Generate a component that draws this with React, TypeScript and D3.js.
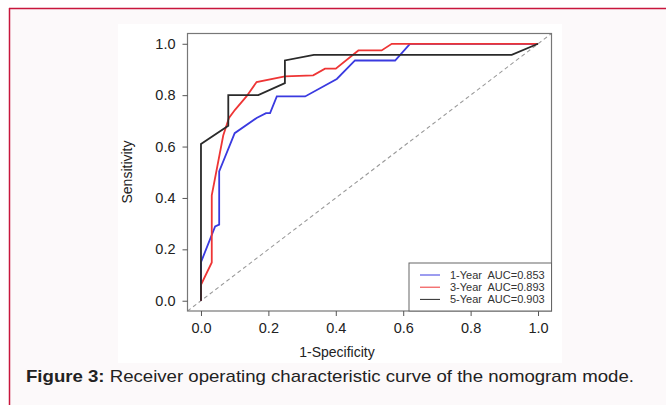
import React, { useRef, useEffect } from 'react';
import * as d3 from 'd3';

// ROC curve points (1-Specificity, Sensitivity)
const year1Fpr = [0, 0, 0.042, 0.054, 0.054, 0.1, 0.165, 0.193, 0.205, 0.225, 0.309, 0.403, 0.457, 0.576, 0.62, 1];
const year1Tpr = [0, 0.15, 0.289, 0.296, 0.503, 0.652, 0.711, 0.73, 0.73, 0.795, 0.795, 0.863, 0.935, 0.935, 1, 1];

const year3Fpr = [0, 0, 0.032, 0.032, 0.066, 0.083, 0.101, 0.135, 0.165, 0.249, 0.333, 0.368, 0.4, 0.467, 0.536, 0.566, 1];
const year3Tpr = [0, 0.062, 0.149, 0.41, 0.643, 0.711, 0.743, 0.795, 0.851, 0.873, 0.877, 0.903, 0.903, 0.974, 0.974, 1, 1];

const year5Fpr = [0, 0, 0.081, 0.081, 0.17, 0.249, 0.249, 0.335, 0.922, 1];
const year5Tpr = [0, 0.61, 0.681, 0.8, 0.8, 0.847, 0.935, 0.957, 0.957, 1];

const seriesNames = ['1-Year', '3-Year', '5-Year'];
const aucValues = ['0.853', '0.893', '0.903'];
const seriesColors = ['#3a3ae0', '#ee3535', '#2a2a2a'];

const tickValues = [0, 0.2, 0.4, 0.6, 0.8, 1.0];

function RocChart() {
  const svgRef = useRef<SVGSVGElement>(null);

  useEffect(() => {
    const width = 666;
    const height = 405;
    const svg = d3.select(svgRef.current)
      .attr('width', width)
      .attr('height', height);
    svg.selectAll('*').remove();

    // page background and red frame
    svg.append('rect').attr('width', width).attr('height', height).attr('fill', '#ffffff');
    svg.append('rect').attr('x', 9).attr('y', 8).attr('width', width - 9).attr('height', height - 8).attr('fill', '#fcf9fa');
    svg.append('line').attr('x1', 9).attr('x2', width).attr('y1', 8.5).attr('y2', 8.5)
      .attr('stroke', '#c8163c').attr('stroke-width', 1.5);
    svg.append('line').attr('x1', 9.5).attr('x2', 9.5).attr('y1', 8).attr('y2', height)
      .attr('stroke', '#c8163c').attr('stroke-width', 1.5);

    // white figure image
    svg.append('rect').attr('x', 118).attr('y', 24).attr('width', 444).attr('height', 339).attr('fill', '#ffffff');

    const x = d3.scaleLinear().domain([-0.04, 1.04]).range([187.5, 551.5]);
    const y = d3.scaleLinear().domain([-0.04, 1.04]).range([311, 33.5]);

    const font = 'Liberation Sans, Arial, sans-serif';

    svg.append('defs').append('clipPath').attr('id', 'plotclip')
      .append('rect').attr('x', x(-0.04)).attr('y', y(1.04))
      .attr('width', x(1.04) - x(-0.04)).attr('height', y(-0.04) - y(1.04));

    // diagonal reference
    svg.append('line')
      .attr('clip-path', 'url(#plotclip)')
      .attr('x1', x(-0.04)).attr('y1', y(-0.04)).attr('x2', x(1.04)).attr('y2', y(1.04))
      .attr('stroke', '#9a9a9a').attr('stroke-width', 1.1).attr('stroke-dasharray', '4,3');

    const line = d3.line<[number, number]>().x(d => x(d[0])).y(d => y(d[1]));
    const series = [
      d3.zip(year1Fpr, year1Tpr),
      d3.zip(year3Fpr, year3Tpr),
      d3.zip(year5Fpr, year5Tpr),
    ];
    series.forEach((pts, i) => {
      svg.append('path')
        .attr('d', line(pts as [number, number][]))
        .attr('fill', 'none')
        .attr('stroke', seriesColors[i])
        .attr('stroke-width', 1.8);
    });

    // plot box
    svg.append('rect')
      .attr('x', x(-0.04)).attr('y', y(1.04))
      .attr('width', x(1.04) - x(-0.04)).attr('height', y(-0.04) - y(1.04))
      .attr('fill', 'none').attr('stroke', '#777').attr('stroke-width', 1.2);

    // axes
    const xAxis = svg.append('g')
      .attr('transform', `translate(0, ${y(-0.04)})`)
      .call(d3.axisBottom(x).tickValues(tickValues).tickFormat(d3.format('.1f')).tickSize(5).tickPadding(7));
    const yAxis = svg.append('g')
      .attr('transform', `translate(${x(-0.04)}, 0)`)
      .call(d3.axisLeft(y).tickValues(tickValues).tickFormat(d3.format('.1f')).tickSize(5).tickPadding(7));
    [xAxis, yAxis].forEach(g => {
      g.select('.domain').remove();
      g.selectAll('line').attr('stroke', '#555');
      g.selectAll('text').attr('font-family', font).attr('font-size', 14.5).attr('fill', '#222');
    });

    svg.append('text')
      .attr('x', 337).attr('y', 357)
      .attr('text-anchor', 'middle')
      .attr('font-family', font).attr('font-size', 14).attr('fill', '#222')
      .text('1-Specificity');
    svg.append('text')
      .attr('transform', `translate(132, 172) rotate(-90)`)
      .attr('text-anchor', 'middle')
      .attr('font-family', font).attr('font-size', 14).attr('fill', '#222')
      .text('Sensitivity');

    // legend
    const legend = svg.append('g');
    legend.append('rect')
      .attr('x', 409).attr('y', 263).attr('width', x(1.04) - 409).attr('height', y(-0.04) - 263)
      .attr('fill', '#ffffff').attr('stroke', '#666').attr('stroke-width', 1);
    seriesNames.forEach((name, i) => {
      const ly = 275 + i * 12.2;
      legend.append('line')
        .attr('x1', 420).attr('x2', 440).attr('y1', ly).attr('y2', ly)
        .attr('stroke', seriesColors[i]).attr('stroke-width', 1);
      legend.append('text')
        .attr('x', 450).attr('y', ly).attr('dy', '0.35em')
        .attr('font-family', font).attr('font-size', 11).attr('fill', '#333')
        .attr('xml:space', 'preserve')
        .text(`${name}  AUC=${aucValues[i]}`);
    });

    // caption
    const caption = svg.append('text')
      .attr('x', 26).attr('y', 382)
      .attr('font-family', font).attr('font-size', 17).attr('fill', '#222')
      .attr('textLength', 608).attr('lengthAdjust', 'spacingAndGlyphs');
    caption.append('tspan').attr('font-weight', 'bold').text('Figure 3:');
    caption.append('tspan').text(' Receiver operating characteristic curve of the nomogram mode.');
  }, []);

  return (
    <svg ref={svgRef} style={{ position: 'absolute', left: 0, top: 0, display: 'block' }}></svg>
  );
}

export default function App() {
  return <RocChart />;
}
